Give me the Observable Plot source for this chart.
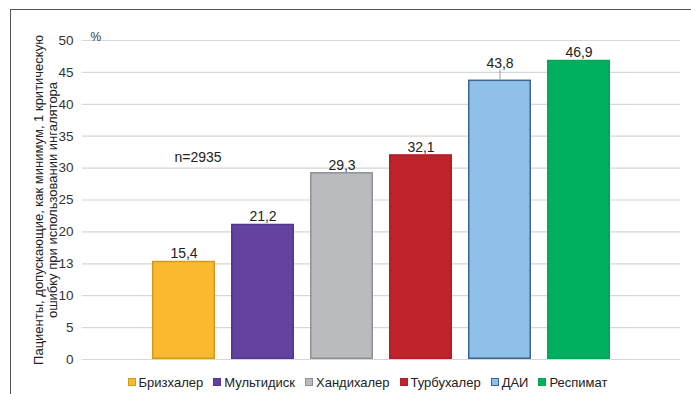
<!DOCTYPE html>
<html>
<head>
<meta charset="utf-8">
<script src="https://cdn.jsdelivr.net/npm/d3@7"></script>
<script src="https://cdn.jsdelivr.net/npm/@observablehq/plot@0.6"></script>
<style>
  html, body { margin: 0; padding: 0; background: #fff; }
  #wrap { position: relative; width: 691px; height: 394px; overflow: hidden; font-family: "Liberation Sans", Arial, sans-serif; }
  #frame { position: absolute; left: 10px; top: 9px; right: -5px; bottom: -5px; border-top: 1.5px solid #555; border-left: 1.5px solid #555; pointer-events: none; }
  #legend { display: flex; justify-content: center; align-items: center; height: 24px; padding-left: 44px; font-size: 13px; color: #222; }
  .item { display: flex; align-items: center; margin: 0 5px; }
  .sw { width: 6px; height: 6px; margin-right: 3px; border: 1px solid; }
  svg { display: block; }
</style>
</head>
<body>
<div id="wrap">
  <div id="chart"></div>
  <div id="legend"></div>
  <div id="frame"></div>
</div>
<script>
// Data
const inhalers = ["Бризхалер", "Мультидиск", "Хандихалер", "Турбухалер", "ДАИ", "Респимат"];
const percents = [15.4, 21.2, 29.3, 32.1, 43.8, 46.9];
const yTicks = [0, 5, 10, 15, 20, 25, 30, 35, 40, 45, 50];
const yTickLabels = ["0", "5", "10", "13", "20", "25", "30", "35", "40", "45", "50"];
const yTitle = "Пациенты, допускающие, как минимум, 1 критическую\nошибку при использовании ингалятора";
const unitLabel = "%";
const note = {inhaler: "Бризхалер", value: 31.6, text: "n=2935"};
const leaderFor = ["ДАИ"];

// Styles
const fills = ["#fbb92f", "#6342a0", "#b9bbbf", "#c0222c", "#8ec0ea", "#00b05f"];
const strokes = ["#d49a1c", "#553590", "#8f9195", "#b01e27", "#3f6491", "#00a555"];

const data = inhalers.map((name, i) => ({name, value: percents[i], leader: leaderFor.includes(name)}));
const fmt = v => String(v).replace(".", ",");
const strokeOf = d => strokes[inhalers.indexOf(d.name)];

const chart = Plot.plot({
  width: 691,
  height: 370,
  marginTop: 40,
  marginBottom: 11,
  marginLeft: 82,
  marginRight: 11,
  style: {fontFamily: "'Liberation Sans', Arial, sans-serif", fontSize: "13px", color: "#222", background: "#fff"},
  x: {domain: inhalers, range: [134.5, 626.8], padding: 0.2, axis: null},
  y: {domain: [0, 50], axis: null},
  color: {domain: inhalers, range: fills},
  marks: [
    Plot.ruleY(yTicks, {stroke: "#d6d6d6", strokeWidth: 1.2}),
    Plot.axisY({ticks: yTicks, tickFormat: (d) => yTickLabels[yTicks.indexOf(d)], tickSize: 0, tickPadding: 9, fontSize: 13.5, fill: "#333", label: null}),
    Plot.text([yTitle], {frameAnchor: "left", textAnchor: "middle", rotate: -90, dx: -37, fontSize: 13, fill: "#222", lineHeight: 1.1}),
    Plot.text([unitLabel], {frameAnchor: "top-left", dx: 8, dy: -8, fontSize: 12, fill: "#333"}),
    Plot.barY(data, {x: "name", y: "value", fill: "name", stroke: strokeOf, strokeWidth: 1.5, inset: 0.75}),
    Plot.ruleX(data.filter(d => d.leader), {x: "name", y1: "value", y2: d => d.value + 1.6, stroke: "#999", strokeWidth: 1}),
    Plot.text(data.filter(d => !d.leader), {x: "name", y: "value", text: d => fmt(d.value), lineAnchor: "bottom", dy: -3, fill: "#222", fontSize: 14}),
    Plot.text(data.filter(d => d.leader), {x: "name", y: "value", text: d => fmt(d.value), lineAnchor: "bottom", dy: -12, fill: "#222", fontSize: 14}),
    Plot.text([note], {x: "inhaler", y: "value", text: "text", dx: 14, fill: "#222", fontSize: 14})
  ]
});
document.getElementById("chart").appendChild(chart);

const legend = document.getElementById("legend");
inhalers.forEach((name, i) => {
  const item = document.createElement("div");
  item.className = "item";
  const sw = document.createElement("span");
  sw.className = "sw";
  sw.style.background = fills[i];
  sw.style.borderColor = strokes[i];
  item.appendChild(sw);
  item.appendChild(document.createTextNode(name));
  legend.appendChild(item);
});
</script>
</body>
</html>
